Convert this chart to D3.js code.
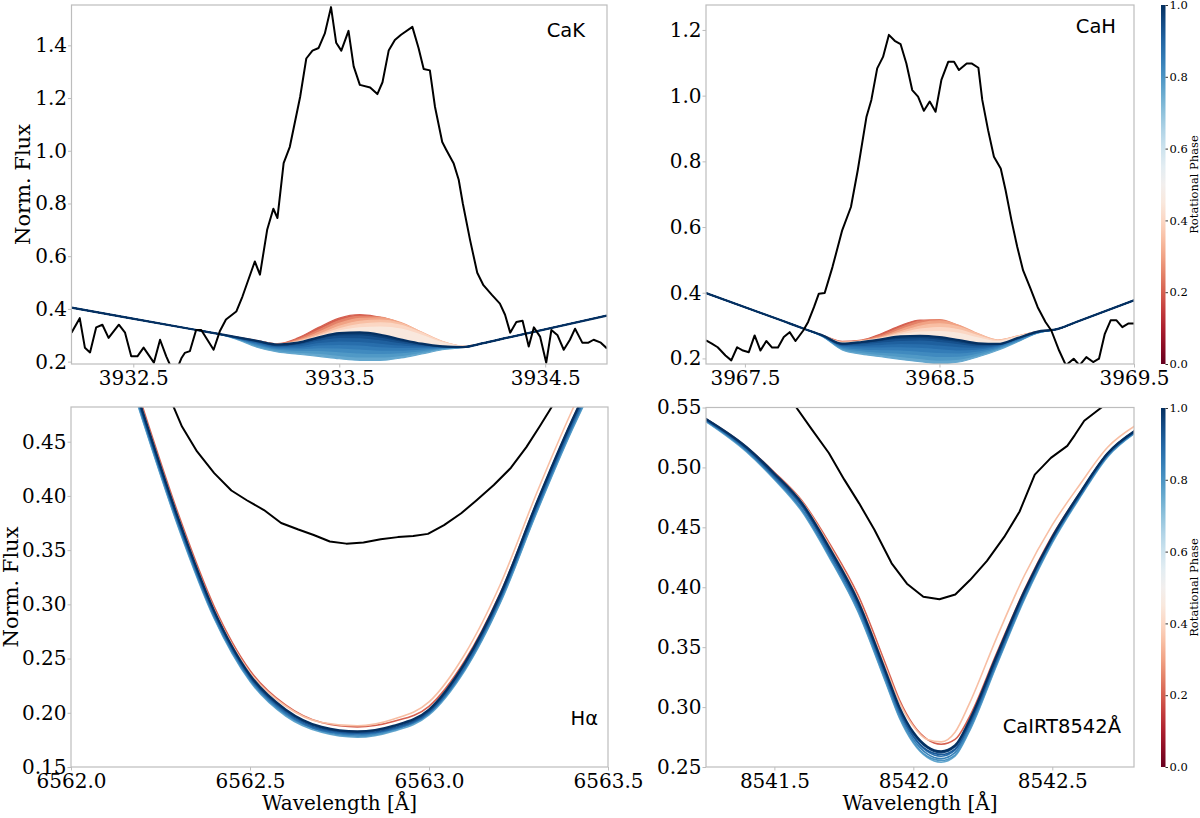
<!DOCTYPE html>
<html>
<head>
<meta charset="utf-8">
<script src="https://cdn.jsdelivr.net/npm/d3@7"></script>
<style>
body { margin: 0; background: #fff; }
</style>
</head>
<body>
<div id="chart"></div>
<script>
// ---- Ca II K ----
var kObs = [[3932.20,0.31],[3932.24,0.365],[3932.265,0.253],[3932.29,0.235],[3932.32,0.33],[3932.35,0.34],
  [3932.38,0.29],[3932.43,0.34],[3932.46,0.31],[3932.49,0.22],[3932.52,0.22],[3932.55,0.253],[3932.60,0.196],
  [3932.63,0.283],[3932.66,0.22],[3932.70,0.15],[3932.735,0.215],[3932.75,0.233],[3932.775,0.24],[3932.805,0.32],
  [3932.83,0.32],[3932.89,0.245],[3932.92,0.315],[3932.95,0.36],[3933.00,0.39],[3933.03,0.447],[3933.09,0.58],
  [3933.115,0.53],[3933.15,0.70],[3933.18,0.78],[3933.20,0.745],[3933.23,0.953],[3933.26,1.015],[3933.31,1.204],
  [3933.34,1.35],[3933.37,1.38],[3933.40,1.39],[3933.43,1.445],[3933.46,1.545],[3933.485,1.41],[3933.51,1.38],
  [3933.545,1.455],[3933.57,1.32],[3933.60,1.25],[3933.65,1.24],[3933.685,1.215],[3933.71,1.26],[3933.74,1.38],
  [3933.77,1.42],[3933.80,1.44],[3933.855,1.47],[3933.885,1.39],[3933.91,1.31],[3933.94,1.305],[3933.965,1.166],
  [3934.00,1.033],[3934.02,1.003],[3934.055,0.953],[3934.08,0.89],[3934.10,0.80],[3934.135,0.662],[3934.17,0.537],
  [3934.20,0.49],[3934.24,0.454],[3934.28,0.42],[3934.305,0.378],[3934.33,0.31],[3934.36,0.35],[3934.39,0.355],
  [3934.42,0.257],[3934.445,0.33],[3934.475,0.295],[3934.505,0.196],[3934.53,0.32],[3934.56,0.30],[3934.59,0.245],
  [3934.62,0.283],[3934.645,0.325],[3934.68,0.272],[3934.71,0.272],[3934.735,0.283],[3934.77,0.272],[3934.80,0.25]];
var kGrid = [3932.2, 3932.8, 3932.9, 3933.0, 3933.1, 3933.2, 3933.3, 3933.4, 3933.5, 3933.6, 3933.7, 3933.8, 3933.9, 3934.0, 3934.1, 3934.2, 3934.3, 3934.8];
var kPhases = [0.20, 0.25, 0.30, 0.35, 0.40, 0.45, 0.76, 0.79, 0.82, 0.85, 0.88, 0.91, 0.94, 0.97, 1.00];
var kModel = [
  [0.405, 0.321, 0.307, 0.293, 0.280, 0.268, 0.290, 0.330, 0.365, 0.378, 0.368, 0.338, 0.300, 0.270, 0.257, 0.270, 0.288, 0.375],
  [0.405, 0.321, 0.307, 0.293, 0.280, 0.267, 0.285, 0.320, 0.356, 0.372, 0.369, 0.345, 0.306, 0.273, 0.258, 0.270, 0.288, 0.375],
  [0.405, 0.321, 0.307, 0.293, 0.280, 0.266, 0.281, 0.311, 0.345, 0.364, 0.366, 0.348, 0.311, 0.276, 0.259, 0.270, 0.288, 0.375],
  [0.405, 0.321, 0.307, 0.293, 0.279, 0.265, 0.278, 0.303, 0.334, 0.353, 0.358, 0.345, 0.312, 0.277, 0.259, 0.270, 0.288, 0.375],
  [0.405, 0.321, 0.307, 0.293, 0.279, 0.265, 0.276, 0.298, 0.324, 0.341, 0.347, 0.338, 0.309, 0.276, 0.259, 0.270, 0.288, 0.375],
  [0.405, 0.321, 0.307, 0.293, 0.279, 0.265, 0.274, 0.295, 0.316, 0.328, 0.331, 0.323, 0.300, 0.272, 0.258, 0.270, 0.288, 0.375],
  [0.405, 0.321, 0.307, 0.285, 0.255, 0.237, 0.228, 0.220, 0.211, 0.205, 0.205, 0.214, 0.229, 0.245, 0.254, 0.270, 0.288, 0.375],
  [0.405, 0.321, 0.307, 0.287, 0.259, 0.242, 0.236, 0.232, 0.224, 0.218, 0.218, 0.224, 0.236, 0.249, 0.254, 0.270, 0.288, 0.375],
  [0.405, 0.321, 0.307, 0.288, 0.263, 0.247, 0.243, 0.243, 0.238, 0.233, 0.231, 0.234, 0.242, 0.251, 0.255, 0.270, 0.288, 0.375],
  [0.405, 0.321, 0.307, 0.289, 0.267, 0.251, 0.249, 0.253, 0.252, 0.248, 0.244, 0.244, 0.248, 0.253, 0.255, 0.270, 0.288, 0.375],
  [0.405, 0.321, 0.307, 0.290, 0.270, 0.255, 0.255, 0.263, 0.265, 0.263, 0.257, 0.254, 0.254, 0.255, 0.255, 0.270, 0.288, 0.375],
  [0.405, 0.321, 0.307, 0.291, 0.273, 0.258, 0.261, 0.273, 0.279, 0.277, 0.270, 0.263, 0.259, 0.256, 0.255, 0.270, 0.288, 0.375],
  [0.405, 0.321, 0.307, 0.292, 0.276, 0.261, 0.266, 0.282, 0.292, 0.291, 0.283, 0.272, 0.263, 0.257, 0.255, 0.270, 0.288, 0.375],
  [0.405, 0.321, 0.307, 0.293, 0.278, 0.263, 0.269, 0.288, 0.301, 0.302, 0.293, 0.279, 0.266, 0.258, 0.255, 0.270, 0.288, 0.375],
  [0.405, 0.321, 0.307, 0.293, 0.279, 0.265, 0.272, 0.292, 0.308, 0.311, 0.302, 0.284, 0.268, 0.258, 0.255, 0.270, 0.288, 0.375]];
var kTicksX = [3932.5, 3933.5, 3934.5];
var kTicksY = [0.2, 0.4, 0.6, 0.8, 1.0, 1.2, 1.4];

// ---- Ca II H ----
var hObs = [[3967.30,0.255],[3967.33,0.245],[3967.36,0.234],[3967.40,0.209],[3967.43,0.194],[3967.46,0.234],
  [3967.49,0.224],[3967.52,0.219],[3967.55,0.270],[3967.58,0.224],[3967.61,0.253],[3967.64,0.233],[3967.67,0.233],
  [3967.70,0.265],[3967.73,0.280],[3967.76,0.253],[3967.80,0.285],[3967.825,0.311],[3967.855,0.356],[3967.88,0.397],
  [3967.91,0.399],[3967.95,0.478],[3968.00,0.590],[3968.045,0.661],[3968.08,0.773],[3968.125,0.936],[3968.15,0.987],
  [3968.18,1.083],[3968.21,1.118],[3968.24,1.185],[3968.27,1.167],[3968.30,1.157],[3968.33,1.098],[3968.36,1.017],
  [3968.39,0.997],[3968.42,0.954],[3968.45,0.982],[3968.48,0.951],[3968.51,1.048],[3968.545,1.103],[3968.575,1.103],
  [3968.60,1.078],[3968.64,1.098],[3968.665,1.098],[3968.70,1.085],[3968.72,0.987],[3968.75,0.895],[3968.78,0.814],
  [3968.815,0.778],[3968.84,0.712],[3968.87,0.621],[3968.90,0.539],[3968.93,0.468],[3968.965,0.417],[3969.005,0.356],
  [3969.045,0.311],[3969.075,0.285],[3969.115,0.224],[3969.15,0.179],[3969.19,0.199],[3969.22,0.179],[3969.255,0.204],
  [3969.29,0.189],[3969.32,0.199],[3969.35,0.275],[3969.38,0.316],[3969.41,0.316],[3969.44,0.295],[3969.47,0.306],
  [3969.50,0.306]];
var hGrid = [3967.3, 3967.7, 3967.8, 3967.9, 3968.0, 3968.1, 3968.2, 3968.3, 3968.4, 3968.5, 3968.6, 3968.7, 3968.8, 3968.9, 3969.0, 3969.11, 3969.2, 3969.5];
var hPhases = [0.20, 0.25, 0.30, 0.35, 0.40, 0.45, 0.76, 0.79, 0.82, 0.85, 0.88, 0.91, 0.94, 0.97, 1.00];
var hModel = [
  [0.399, 0.313, 0.291, 0.270, 0.252, 0.256, 0.275, 0.300, 0.317, 0.316, 0.296, 0.268, 0.252, 0.266, 0.281, 0.290, 0.310, 0.377],
  [0.399, 0.313, 0.291, 0.270, 0.251, 0.255, 0.270, 0.294, 0.314, 0.318, 0.300, 0.272, 0.254, 0.267, 0.281, 0.290, 0.310, 0.377],
  [0.399, 0.313, 0.291, 0.270, 0.250, 0.254, 0.266, 0.287, 0.307, 0.314, 0.301, 0.275, 0.256, 0.268, 0.282, 0.290, 0.310, 0.377],
  [0.399, 0.313, 0.291, 0.270, 0.249, 0.253, 0.263, 0.281, 0.298, 0.305, 0.296, 0.274, 0.256, 0.268, 0.282, 0.290, 0.310, 0.377],
  [0.399, 0.313, 0.291, 0.270, 0.248, 0.252, 0.262, 0.276, 0.289, 0.294, 0.287, 0.269, 0.254, 0.267, 0.281, 0.290, 0.310, 0.377],
  [0.399, 0.313, 0.291, 0.270, 0.247, 0.251, 0.260, 0.272, 0.280, 0.282, 0.276, 0.262, 0.251, 0.265, 0.281, 0.290, 0.310, 0.377],
  [0.399, 0.313, 0.291, 0.266, 0.226, 0.213, 0.205, 0.197, 0.190, 0.184, 0.189, 0.205, 0.225, 0.250, 0.276, 0.290, 0.310, 0.377],
  [0.399, 0.313, 0.291, 0.267, 0.229, 0.218, 0.212, 0.206, 0.200, 0.195, 0.198, 0.211, 0.229, 0.252, 0.277, 0.290, 0.310, 0.377],
  [0.399, 0.313, 0.291, 0.267, 0.232, 0.224, 0.219, 0.216, 0.211, 0.206, 0.207, 0.217, 0.232, 0.254, 0.277, 0.290, 0.310, 0.377],
  [0.399, 0.313, 0.291, 0.268, 0.235, 0.229, 0.227, 0.226, 0.222, 0.218, 0.217, 0.223, 0.235, 0.256, 0.278, 0.290, 0.310, 0.377],
  [0.399, 0.313, 0.291, 0.268, 0.238, 0.235, 0.235, 0.236, 0.234, 0.230, 0.226, 0.229, 0.238, 0.258, 0.279, 0.290, 0.310, 0.377],
  [0.399, 0.313, 0.291, 0.269, 0.240, 0.240, 0.243, 0.246, 0.245, 0.241, 0.236, 0.234, 0.240, 0.259, 0.279, 0.290, 0.310, 0.377],
  [0.399, 0.313, 0.291, 0.269, 0.242, 0.245, 0.250, 0.255, 0.256, 0.252, 0.245, 0.239, 0.242, 0.260, 0.280, 0.290, 0.310, 0.377],
  [0.399, 0.313, 0.291, 0.270, 0.244, 0.248, 0.255, 0.262, 0.263, 0.259, 0.251, 0.243, 0.243, 0.261, 0.280, 0.290, 0.310, 0.377],
  [0.399, 0.313, 0.291, 0.270, 0.245, 0.250, 0.258, 0.267, 0.269, 0.265, 0.256, 0.246, 0.244, 0.262, 0.281, 0.290, 0.310, 0.377]];
var hTicksX = [3967.5, 3968.5, 3969.5];
var hTicksY = [0.2, 0.4, 0.6, 0.8, 1.0, 1.2];

// ---- H alpha ----
var haObs = [[6562.26,0.50],[6562.288,0.481],[6562.31,0.464],[6562.352,0.441],[6562.40,0.421],[6562.448,0.405],
  [6562.491,0.396],[6562.539,0.387],[6562.587,0.375],[6562.635,0.369],[6562.678,0.364],[6562.723,0.358],
  [6562.769,0.356],[6562.817,0.357],[6562.865,0.360],[6562.913,0.362],[6562.956,0.363],[6562.997,0.365],
  [6563.042,0.373],[6563.09,0.384],[6563.133,0.396],[6563.181,0.410],[6563.229,0.426],[6563.272,0.445],
  [6563.309,0.464],[6563.341,0.481],[6563.37,0.50]];
var haGrid = [6562.15, 6562.2, 6562.3, 6562.4, 6562.5, 6562.6, 6562.7, 6562.8, 6562.9, 6563.0, 6563.1, 6563.2, 6563.3, 6563.4, 6563.45];
var haPhases = [0.20, 0.35, 0.76, 0.80, 0.84, 0.88, 0.92, 0.96, 1.00];
var haModel = [
  [0.534, 0.482, 0.383, 0.298, 0.239, 0.207, 0.191, 0.1870, 0.192, 0.206, 0.248, 0.311, 0.393, 0.470, 0.505],
  [0.531, 0.479, 0.380, 0.295, 0.237, 0.206, 0.191, 0.1880, 0.194, 0.210, 0.254, 0.319, 0.402, 0.479, 0.514],
  [0.522, 0.470, 0.371, 0.287, 0.229, 0.197, 0.182, 0.1775, 0.183, 0.198, 0.239, 0.302, 0.384, 0.461, 0.496],
  [0.523, 0.471, 0.372, 0.288, 0.230, 0.198, 0.183, 0.1785, 0.184, 0.199, 0.240, 0.303, 0.385, 0.462, 0.497],
  [0.525, 0.473, 0.374, 0.289, 0.231, 0.199, 0.184, 0.1795, 0.185, 0.200, 0.241, 0.305, 0.387, 0.464, 0.499],
  [0.526, 0.474, 0.375, 0.290, 0.232, 0.200, 0.184, 0.1805, 0.185, 0.200, 0.242, 0.306, 0.388, 0.465, 0.500],
  [0.527, 0.475, 0.376, 0.292, 0.233, 0.201, 0.185, 0.1812, 0.186, 0.201, 0.244, 0.307, 0.390, 0.467, 0.502],
  [0.529, 0.477, 0.378, 0.293, 0.234, 0.202, 0.186, 0.1820, 0.187, 0.202, 0.245, 0.309, 0.392, 0.469, 0.504],
  [0.530, 0.478, 0.379, 0.294, 0.235, 0.203, 0.187, 0.1828, 0.188, 0.203, 0.246, 0.310, 0.393, 0.470, 0.505]];
var haTicksX = [6562.0, 6562.5, 6563.0, 6563.5];
var haTicksY = [0.15, 0.20, 0.25, 0.30, 0.35, 0.40, 0.45];

// ---- Ca IRT 8542 ----
var irtObs = [[8541.55,0.57],[8541.579,0.550],[8541.634,0.532],[8541.696,0.512],[8541.751,0.490],[8541.805,0.470],
  [8541.86,0.448],[8541.922,0.420],[8541.977,0.403],[8542.036,0.392],[8542.094,0.390],[8542.151,0.394],
  [8542.204,0.406],[8542.265,0.422],[8542.327,0.442],[8542.382,0.463],[8542.437,0.494],[8542.495,0.508],
  [8542.554,0.518],[8542.581,0.527],[8542.615,0.539],[8542.677,0.550],[8542.72,0.56]];
var irtGrid = [8541.25, 8541.4, 8541.5, 8541.6, 8541.7, 8541.8, 8541.9, 8541.95, 8542.0, 8542.05, 8542.1, 8542.15, 8542.2, 8542.3, 8542.4, 8542.5, 8542.6, 8542.7, 8542.8];
var irtPhases = [0.20, 0.35, 0.76, 0.80, 0.84, 0.88, 0.92, 0.96, 1.00];
var irtModel = [
  [0.541, 0.517, 0.496, 0.472, 0.436, 0.394, 0.336, 0.306, 0.285, 0.273, 0.269, 0.273, 0.291, 0.345, 0.398, 0.443, 0.479, 0.512, 0.531],
  [0.541, 0.517, 0.495, 0.471, 0.434, 0.391, 0.333, 0.304, 0.284, 0.273, 0.271, 0.279, 0.302, 0.358, 0.410, 0.452, 0.486, 0.517, 0.535],
  [0.539, 0.513, 0.490, 0.463, 0.424, 0.380, 0.321, 0.291, 0.270, 0.258, 0.254, 0.259, 0.279, 0.335, 0.390, 0.437, 0.475, 0.509, 0.529],
  [0.539, 0.514, 0.491, 0.464, 0.425, 0.381, 0.322, 0.292, 0.271, 0.259, 0.2555, 0.260, 0.280, 0.336, 0.391, 0.438, 0.476, 0.510, 0.5293],
  [0.540, 0.514, 0.491, 0.465, 0.426, 0.383, 0.324, 0.294, 0.273, 0.261, 0.257, 0.262, 0.282, 0.337, 0.392, 0.439, 0.476, 0.510, 0.5297],
  [0.540, 0.515, 0.492, 0.467, 0.428, 0.385, 0.326, 0.296, 0.275, 0.263, 0.259, 0.264, 0.284, 0.339, 0.394, 0.440, 0.477, 0.511, 0.530],
  [0.540, 0.516, 0.493, 0.468, 0.429, 0.386, 0.327, 0.297, 0.276, 0.264, 0.2605, 0.265, 0.285, 0.340, 0.395, 0.441, 0.478, 0.511, 0.5303],
  [0.541, 0.516, 0.494, 0.469, 0.431, 0.388, 0.329, 0.299, 0.278, 0.266, 0.262, 0.267, 0.287, 0.342, 0.396, 0.441, 0.478, 0.512, 0.5307],
  [0.541, 0.517, 0.495, 0.470, 0.432, 0.389, 0.330, 0.300, 0.279, 0.267, 0.263, 0.268, 0.288, 0.343, 0.397, 0.442, 0.479, 0.512, 0.531]];
var irtTicksX = [8541.5, 8542.0, 8542.5];
var irtTicksY = [0.25, 0.30, 0.35, 0.40, 0.45, 0.50, 0.55];

var cbarTicks = [0.0, 0.2, 0.4, 0.6, 0.8, 1.0];

var serif = "DejaVu Serif", sans = "DejaVu Sans";
var spineColor = "#bdbdbd";

var svg = d3.select("#chart").append("svg")
    .attr("width", 1200)
    .attr("height", 818);
var defs = svg.append("defs");

function drawPanel(p) {
  var x = d3.scaleLinear().domain(p.xDomain).range([p.left, p.right]);
  var y = d3.scaleLinear().domain(p.yDomain).range([p.bottom, p.top]);

  defs.append("clipPath").attr("id", "clip-" + p.id)
    .append("rect")
    .attr("x", p.left).attr("y", p.top)
    .attr("width", p.right - p.left).attr("height", p.bottom - p.top);

  var plot = svg.append("g").attr("clip-path", "url(#clip-" + p.id + ")");

  // model profiles, painted in order of phase; the phase 1.0 profile goes last
  var refIdx = p.phases.indexOf(1.0);
  var ref = p.model[refIdx];
  var order = d3.range(p.phases.length)
    .filter(function(i){ return i !== refIdx; })
    .sort(function(a, b){ return p.phases[a] - p.phases[b]; });

  var area = d3.area().curve(d3.curveMonotoneX)
    .x(function(d, j){ return x(p.grid[j]); })
    .y0(function(d, j){ return y(ref[j]); })
    .y1(function(d){ return y(d); });
  var line = d3.line().curve(d3.curveMonotoneX)
    .x(function(d, j){ return x(p.grid[j]); })
    .y(function(d){ return y(d); });

  order.forEach(function(i){
    var c = d3.interpolateRdBu(p.phases[i]);
    if (p.fill) {
      plot.append("path").datum(p.model[i])
        .attr("fill", c)
        .attr("d", area);
    }
    plot.append("path").datum(p.model[i])
      .attr("fill", "none")
      .attr("stroke", c)
      .attr("stroke-width", p.fill ? 1.2 : 1.6)
      .attr("d", line);
  });
  plot.append("path").datum(ref)
    .attr("fill", "none")
    .attr("stroke", d3.interpolateRdBu(1.0))
    .attr("stroke-width", 2.2)
    .attr("d", line);

  // observed spectrum
  plot.append("path").datum(p.obs)
    .attr("fill", "none")
    .attr("stroke", "#000")
    .attr("stroke-width", 2)
    .attr("stroke-linejoin", "round")
    .attr("d", d3.line().x(function(d){ return x(d[0]); }).y(function(d){ return y(d[1]); }));

  // frame
  svg.append("rect")
    .attr("x", p.left).attr("y", p.top)
    .attr("width", p.right - p.left).attr("height", p.bottom - p.top)
    .attr("fill", "none").attr("stroke", spineColor).attr("stroke-width", 1.2);

  var ax = svg.append("g")
    .attr("transform", "translate(0," + p.bottom + ")")
    .call(d3.axisBottom(x).tickValues(p.xTicks).tickFormat(d3.format(".1f")).tickSize(3.5).tickSizeOuter(0).tickPadding(3));
  var ay = svg.append("g")
    .attr("transform", "translate(" + p.left + ",0)")
    .call(d3.axisLeft(y).tickValues(p.yTicks).tickFormat(d3.format(p.yFmt)).tickSize(3.5).tickSizeOuter(0).tickPadding(1));
  [ax, ay].forEach(function(a){
    a.select(".domain").remove();
    a.selectAll(".tick line").attr("stroke", spineColor);
    a.selectAll(".tick text")
      .attr("fill", "#000")
      .style("font-family", serif)
      .style("font-size", "20px");
  });

  svg.append("text")
    .attr("x", p.labelX).attr("y", p.labelY)
    .attr("text-anchor", "end")
    .style("font-family", sans)
    .style("font-size", "19.5px")
    .attr("fill", "#000")
    .text(p.label);

  if (p.yLabelX) {
    svg.append("text")
      .attr("transform", "translate(" + p.yLabelX + "," + ((p.top + p.bottom) / 2) + ") rotate(-90)")
      .attr("text-anchor", "middle")
      .style("font-family", serif)
      .style("font-size", "21px")
      .attr("fill", "#000")
      .text("Norm. Flux");
  }
  if (p.xLabel) {
    svg.append("text")
      .attr("x", (p.left + p.right) / 2).attr("y", 810)
      .attr("text-anchor", "middle")
      .style("font-family", serif)
      .style("font-size", "20px")
      .attr("fill", "#000")
      .text("Wavelength [Å]");
  }
}

function drawColorbar(id, top, bottom) {
  var x0 = 1161, w = 4.5;
  var grad = defs.append("linearGradient").attr("id", "grad-" + id)
    .attr("x1", 0).attr("y1", 1).attr("x2", 0).attr("y2", 0);
  d3.range(0, 1.0001, 0.05).forEach(function(t){
    grad.append("stop").attr("offset", t).attr("stop-color", d3.interpolateRdBu(t));
  });
  svg.append("rect")
    .attr("x", x0).attr("y", top).attr("width", w).attr("height", bottom - top)
    .attr("fill", "url(#grad-" + id + ")");
  var s = d3.scaleLinear().domain([0, 1]).range([bottom, top]);
  var a = svg.append("g")
    .attr("transform", "translate(" + (x0 + w) + ",0)")
    .call(d3.axisRight(s).tickValues(cbarTicks).tickFormat(d3.format(".1f")).tickSize(2.5).tickSizeOuter(0).tickPadding(1.5));
  a.select(".domain").remove();
  a.selectAll(".tick line").attr("stroke", "#333");
  a.selectAll(".tick text").attr("fill", "#000").style("font-family", serif).style("font-size", "11.5px");
  svg.append("text")
    .attr("transform", "translate(1198," + ((top + bottom) / 2) + ") rotate(-90)")
    .attr("text-anchor", "middle")
    .style("font-family", serif)
    .style("font-size", "11.5px")
    .attr("fill", "#000")
    .text("Rotational Phase");
}

drawPanel({id: "cak", left: 71.5, right: 607, top: 5, bottom: 364, fill: true,
  xDomain: [3932.2, 3934.8], yDomain: [0.191, 1.553], xTicks: kTicksX, yTicks: kTicksY, yFmt: ".1f",
  obs: kObs, grid: kGrid, phases: kPhases, model: kModel,
  label: "CaK", labelX: 585, labelY: 37, yLabelX: 30});
drawPanel({id: "cah", left: 706, right: 1134, top: 5, bottom: 364, fill: true,
  xDomain: [3967.3, 3969.5], yDomain: [0.183, 1.276], xTicks: hTicksX, yTicks: hTicksY, yFmt: ".1f",
  obs: hObs, grid: hGrid, phases: hPhases, model: hModel,
  label: "CaH", labelX: 1116, labelY: 33});
drawPanel({id: "ha", left: 71, right: 608, top: 407, bottom: 767, fill: false,
  xDomain: [6562.0, 6563.5], yDomain: [0.15, 0.482], xTicks: haTicksX, yTicks: haTicksY, yFmt: ".2f",
  obs: haObs, grid: haGrid, phases: haPhases, model: haModel,
  label: "H\u03b1", labelX: 598, labelY: 725, yLabelX: 18, xLabel: true});
drawPanel({id: "irt", left: 706, right: 1134, top: 407.5, bottom: 767, fill: false,
  xDomain: [8541.254, 8542.794], yDomain: [0.25, 0.55], xTicks: irtTicksX, yTicks: irtTicksY, yFmt: ".2f",
  obs: irtObs, grid: irtGrid, phases: irtPhases, model: irtModel,
  label: "CaIRT8542Å", labelX: 1121, labelY: 732.5, xLabel: true});

drawColorbar("top", 5, 364);
drawColorbar("bottom", 408, 767);
</script>
</body>
</html>
